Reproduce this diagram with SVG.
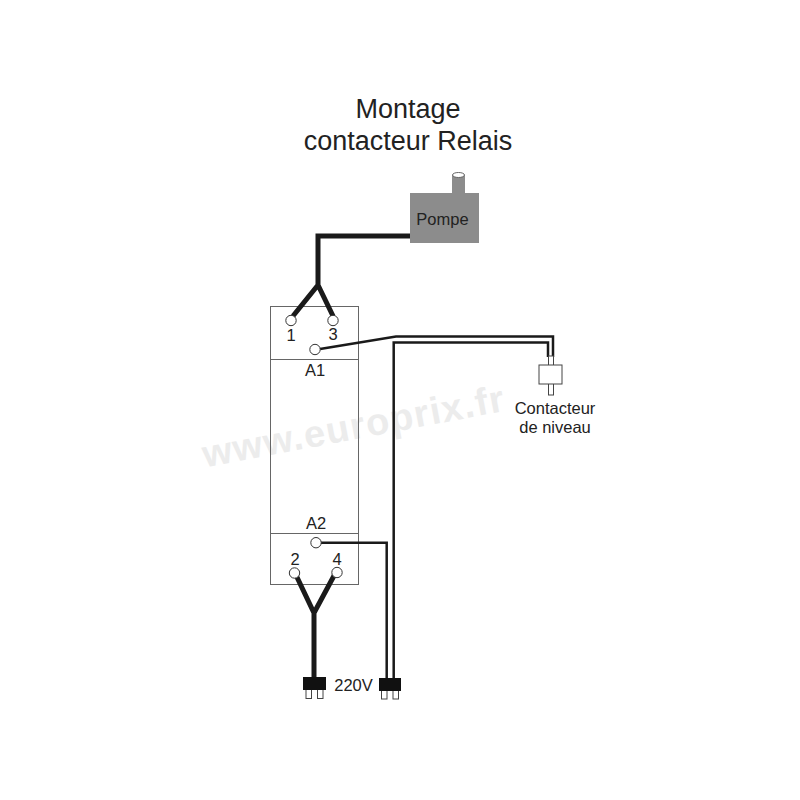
<svg xmlns="http://www.w3.org/2000/svg" width="800" height="800" viewBox="0 0 800 800">
<style>
text{font-family:"Liberation Sans",Arial,sans-serif;fill:#222}
.t{text-anchor:middle}
.s{font-size:16.500px}
.w{fill:none;stroke:#1a1a1a;stroke-linejoin:miter}
.thick{stroke-width:5px}
.thin{stroke-width:2.500px}
.c{fill:#fff;stroke:#333;stroke-width:1}
.box{fill:none;stroke:#666;stroke-width:1}
.plug{fill:#111}
.pin{fill:#fff;stroke:#444;stroke-width:1}
</style>
<rect width="800" height="800" fill="#fff"/>
<text id="watermark" x="356" y="439" class="t" transform="rotate(-10.700 356 439)" style="font-size:38px;font-weight:bold;fill:#ececec;letter-spacing:1.300px">www.europrix.fr</text>
<g id="title">
<text x="408" y="117.500" class="t" style="font-size:27px">Montage</text>
<text x="408" y="149.500" class="t" style="font-size:27px">contacteur Relais</text>
</g>
<g id="relais">
<rect class="box" x="270.500" y="306.500" width="88" height="278"/>
<line x1="270" y1="359.500" x2="358" y2="359.500" stroke="#666"/>
<line x1="270" y1="533.500" x2="358" y2="533.500" stroke="#666"/>
<text x="315" y="375.500" class="t s">A1</text>
<text x="316" y="529" class="t s">A2</text>
</g>
<g id="connectors">
<path class="w thick" d="M410 236H318V286M318 285L293 316M318 285L333 316"/>
<path class="w thick" d="M295 573L314 613L336 572M314 610V678"/>
<path class="w thin" d="M320 349L396 336.500H553V357"/>
<path class="w thin" d="M393.700 678V342.500H548V357"/>
<path class="w thin" d="M321 542.700H386.700V678"/>
</g>
<g id="pompe">
<rect x="452" y="175" width="13" height="19" fill="#8c8c8c"/>
<ellipse cx="458.500" cy="175" rx="6" ry="2.500" fill="#fff" stroke="#666"/>
<rect x="410" y="193" width="69" height="50" fill="#8c8c8c"/>
<text x="442.500" y="225" class="t s">Pompe</text>
</g>
<g id="borne-1"><circle class="c" cx="291" cy="320.500" r="5.200"/><text x="291" y="341" class="t s">1</text></g>
<g id="borne-3"><circle class="c" cx="333" cy="320.500" r="5.200"/><text x="333" y="340" class="t s">3</text></g>
<g id="borne-a1"><circle class="c" cx="315" cy="349.500" r="5.200"/></g>
<g id="borne-a2"><circle class="c" cx="316" cy="542.700" r="5.200"/></g>
<g id="borne-2"><circle class="c" cx="294.500" cy="573" r="5.200"/><text x="295" y="565" class="t s">2</text></g>
<g id="borne-4"><circle class="c" cx="337" cy="572.500" r="5.200"/><text x="337" y="565" class="t s">4</text></g>
<g id="contacteur-niveau">
<rect class="pin" x="548.500" y="356" width="5" height="39"/>
<rect class="pin" x="539" y="365" width="23" height="19"/>
<text x="555" y="414" class="t s">Contacteur</text>
<text x="555" y="433" class="t s">de niveau</text>
</g>
<g id="prise-1">
<rect class="pin" x="306" y="689" width="5.500" height="9.500"/>
<rect class="pin" x="317.500" y="689" width="5.500" height="9.500"/>
<rect class="plug" x="303" y="677" width="23" height="13"/>
</g>
<g id="prise-2">
<rect class="pin" x="381.500" y="690" width="5.500" height="9"/>
<rect class="pin" x="393" y="690" width="5.500" height="9"/>
<rect class="plug" x="379" y="678" width="22" height="13"/>
</g>
<text id="tension" x="353.500" y="691" class="t s">220V</text>
</svg>
